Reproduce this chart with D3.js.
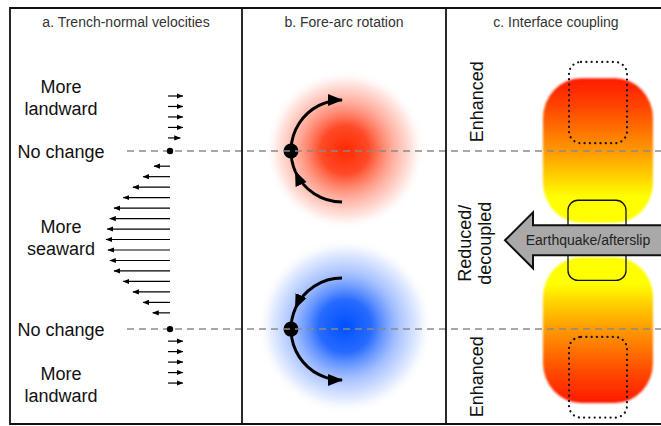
<!DOCTYPE html>
<html>
<head>
<meta charset="utf-8">
<script src="https://cdn.jsdelivr.net/npm/d3@7"></script>
<style>
  body { margin: 0; background: #fff; }
  svg { display: block; }
</style>
</head>
<body>
<div id="chart"></div>
<script>
// ---- data ----
const panelTitles = ["a. Trench-normal velocities", "b. Fore-arc rotation", "c. Interface coupling"];

// trench-normal velocity change along strike (row units), negative = seaward
const upperLandward = [0.2, 0.2, 0.2, 0.2, 0.16];
const seaward = [-0.25, -0.42, -0.58, -0.73, -0.875, -0.94, -0.98, -1.0, -0.97, -0.94, -0.875, -0.73, -0.58, -0.42, -0.27];
const lowerLandward = [0.2, 0.2, 0.2, 0.2, 0.2];
const upperStart = 0, seawardStart = 6.7, lowerStart = 23.4;

// rows where the velocity change is zero (pivot of rotation)
const noChangeRows = [5.25, 22.25];
const rotationSense = ["cw", "ccw"];

// interface coupling zones, in row units along strike
const couplingZones = [
  { from: -1.7, to: 12.1, peak: "top" },
  { from: 15.4, to: 29.3, peak: "bottom" }
];
const asperities = [[-3.25, 4.5], [23.0, 30.7]];
const decoupledPatch = [9.95, 17.6];
const couplingLabels = [["Enhanced"], ["Reduced/", "decoupled"], ["Enhanced"]];
const couplingLabelRows = [0.55, 14.05, 26.8];

// ---- layout ----
const W = 661, H = 426;
const frame = { left: 10, top: 8, bottom: 424, right: 661 };
const dividers = [242, 446];

const svg = d3.select("#chart").append("svg")
  .attr("width", W).attr("height", H)
  .attr("viewBox", `0 0 ${W} ${H}`)
  .style("font-family", "'Liberation Sans', Arial, Helvetica, sans-serif");

const defs = svg.append("defs");

const y = d3.scaleLinear().domain([0, 27.3]).range([96, 382]);
const xv = d3.scaleLinear().domain([-1, 0]).range([106, 170]);

// markers
defs.append("marker")
  .attr("id", "smallHead")
  .attr("markerUnits", "userSpaceOnUse")
  .attr("markerWidth", 8).attr("markerHeight", 8)
  .attr("viewBox", "0 -4 8 8")
  .attr("refX", 6).attr("refY", 0)
  .attr("orient", "auto")
  .append("path").attr("d", "M0,-2.6L6.5,0L0,2.6Z").attr("fill", "#000");

defs.append("marker")
  .attr("id", "bigHead")
  .attr("markerUnits", "userSpaceOnUse")
  .attr("markerWidth", 18).attr("markerHeight", 16)
  .attr("viewBox", "0 -8 18 16")
  .attr("refX", 14).attr("refY", 0)
  .attr("orient", "auto")
  .append("path").attr("d", "M0,-6L15,0L0,6Z").attr("fill", "#000");

// glows
const glow = [
  { id: "redGlow", c: "#ff2a00", mid: "#ff6648" },
  { id: "blueGlow", c: "#0050ff", mid: "#5a8cff" }
];
glow.forEach(g => {
  const rg = defs.append("radialGradient").attr("id", g.id);
  rg.append("stop").attr("offset", "0%").attr("stop-color", g.c).attr("stop-opacity", 1);
  rg.append("stop").attr("offset", "30%").attr("stop-color", g.c).attr("stop-opacity", 0.85);
  rg.append("stop").attr("offset", "62%").attr("stop-color", g.mid).attr("stop-opacity", 0.5);
  rg.append("stop").attr("offset", "85%").attr("stop-color", g.mid).attr("stop-opacity", 0.15);
  rg.append("stop").attr("offset", "100%").attr("stop-color", "#ffffff").attr("stop-opacity", 0);
});

// coupling gradients
const topStops = [[0, "#ff1a00"], [0.2, "#ff4600"], [0.5, "#ff9800"], [0.68, "#ffd000"], [0.82, "#ffff00"], [1, "#ffff00"]];
[["couplingTop", false], ["couplingBottom", true]].forEach(([id, flip]) => {
  const lg = defs.append("linearGradient").attr("id", id)
    .attr("x1", 0).attr("y1", 0).attr("x2", 0).attr("y2", 1);
  const stops = flip ? topStops.map(([o, c]) => [1 - o, c]).reverse() : topStops;
  stops.forEach(([o, c]) => lg.append("stop").attr("offset", o).attr("stop-color", c));
});
defs.append("filter").attr("id", "soft")
  .append("feGaussianBlur").attr("stdDeviation", 0.8);

// ---- panel b: rotation glows (under dashed lines) ----
const pivotX = 291, arcR = 51;
const gb = svg.append("g");
noChangeRows.forEach((row, i) => {
  gb.append("circle")
    .attr("cx", pivotX + arcR + 3)
    .attr("cy", y(row) + (i === 0 ? -1 : -3))
    .attr("r", i === 0 ? 80 : 88)
    .attr("fill", `url(#${glow[i].id})`);
});

// ---- panel c: coupling blobs ----
const gc = svg.append("g");
const blobX0 = 543, blobX1 = 653;
couplingZones.forEach(z => {
  gc.append("rect")
    .attr("x", blobX0).attr("y", y(z.from))
    .attr("width", blobX1 - blobX0).attr("height", y(z.to) - y(z.from))
    .attr("rx", 38).attr("ry", 40)
    .attr("fill", z.peak === "top" ? "url(#couplingTop)" : "url(#couplingBottom)")
    .attr("filter", "url(#soft)");
});

// ---- dashed no-change lines ----
svg.append("g").selectAll("line").data(noChangeRows).join("line")
  .attr("x1", 127).attr("x2", W)
  .attr("y1", d => y(d)).attr("y2", d => y(d))
  .attr("stroke", "#8a8a8a").attr("stroke-width", 1.5)
  .attr("stroke-dasharray", "7,5");

// asperities (dotted) and decoupled patch
gc.append("g").selectAll("rect").data(asperities).join("rect")
  .attr("x", 569).attr("width", 58)
  .attr("y", d => y(d[0])).attr("height", d => y(d[1]) - y(d[0]))
  .attr("rx", 12)
  .attr("fill", "none").attr("stroke", "#111").attr("stroke-width", 2.2)
  .attr("stroke-linecap", "round").attr("stroke-dasharray", "0.1,5.2");

gc.append("rect")
  .attr("x", 568).attr("width", 58)
  .attr("y", y(decoupledPatch[0])).attr("height", y(decoupledPatch[1]) - y(decoupledPatch[0]))
  .attr("rx", 10)
  .attr("fill", "none").attr("stroke", "#111").attr("stroke-width", 1.3);

// earthquake / afterslip arrow
const ay = (y(decoupledPatch[0]) + y(decoupledPatch[1])) / 2;
const tipX = 505, headX = 533, headH = 28, bodyH = 15;
gc.append("path")
  .attr("d", `M${tipX},${ay}L${headX},${ay - headH}L${headX},${ay - bodyH}L${W + 5},${ay - bodyH}` +
             `L${W + 5},${ay + bodyH}L${headX},${ay + bodyH}L${headX},${ay + headH}Z`)
  .attr("fill", "#a9a9a9").attr("stroke", "#111").attr("stroke-width", 2)
  .attr("stroke-linejoin", "miter");
gc.append("text")
  .attr("x", 588).attr("y", ay + 5)
  .attr("text-anchor", "middle")
  .attr("font-size", 14).attr("fill", "#222")
  .text("Earthquake/afterslip");

// rotated coupling labels
couplingLabels.forEach((lines, i) => {
  const cy = y(couplingLabelRows[i]);
  const g = svg.append("g").attr("transform", `translate(0,${cy})`);
  lines.forEach((t, j) => {
    const bx = lines.length === 1 ? 483 : 471 + j * 20;
    g.append("text")
      .attr("transform", `translate(${bx},0) rotate(-90)`)
      .attr("text-anchor", "middle")
      .attr("font-size", 18).attr("fill", "#111")
      .text(t);
  });
});

// ---- panel a: velocity arrows ----
const ga = svg.append("g");
const rows = [
  ...upperLandward.map((v, i) => ({ row: upperStart + i, v })),
  ...seaward.map((v, i) => ({ row: seawardStart + i, v })),
  ...lowerLandward.map((v, i) => ({ row: lowerStart + i, v }))
];
ga.selectAll("line.vel").data(rows).join("line")
  .attr("class", "vel")
  .attr("x1", d => xv(0) - (d.v > 0 ? 2 : 0))
  .attr("x2", d => xv(d.v))
  .attr("y1", d => y(d.row)).attr("y2", d => y(d.row))
  .attr("stroke", "#000").attr("stroke-width", 1.2)
  .attr("marker-end", "url(#smallHead)");

ga.selectAll("circle").data(noChangeRows).join("circle")
  .attr("cx", xv(0)).attr("cy", d => y(d)).attr("r", 3.2).attr("fill", "#000");

// panel a labels
const labelX = 61;
const aLabels = [
  { lines: ["More", "landward"], base: y(upperStart) - 3 },
  { lines: ["No change"], base: y(noChangeRows[0]) + 7 },
  { lines: ["More", "seaward"], base: 233 },
  { lines: ["No change"], base: y(noChangeRows[1]) + 7 },
  { lines: ["More", "landward"], base: y(lowerStart) + 39 }
];
aLabels.forEach(l => {
  l.lines.forEach((t, j) => {
    ga.append("text")
      .attr("x", labelX).attr("y", l.base + j * 22)
      .attr("text-anchor", "middle")
      .attr("font-size", 18).attr("fill", "#111")
      .text(t);
  });
});

// ---- panel b: rotation arcs ----
const deg = Math.PI / 180;
noChangeRows.forEach((row, i) => {
  const cx = pivotX + arcR, cy = y(row);
  const segs = rotationSense[i] === "cw"
    ? [[90, 156], [156, 270]]
    : [[270, 204], [204, 90]];
  segs.forEach(([a0, a1]) => {
    const p = d3.path();
    p.arc(cx, cy, arcR, a0 * deg, a1 * deg, a1 < a0);
    gb.append("path")
      .attr("d", p.toString())
      .attr("fill", "none").attr("stroke", "#000").attr("stroke-width", 3)
      .attr("marker-end", "url(#bigHead)");
  });
  gb.append("circle").attr("cx", pivotX).attr("cy", cy).attr("r", 7.5).attr("fill", "#000");
});

// ---- frame & titles ----
const fr = svg.append("g").attr("fill", "none").attr("stroke", "#111").attr("stroke-width", 1.8);
fr.append("path").attr("d", `M${frame.right},${frame.top}H${frame.left}V${frame.bottom}H${frame.right}`);
dividers.forEach(x => fr.append("line").attr("x1", x).attr("x2", x).attr("y1", frame.top).attr("y2", frame.bottom));

const panelCenters = [126, 344, 556];
svg.append("g").selectAll("text").data(panelTitles).join("text")
  .attr("x", (d, i) => panelCenters[i]).attr("y", 27)
  .attr("text-anchor", "middle")
  .attr("font-size", 14).attr("fill", "#333")
  .text(d => d);
</script>
</body>
</html>
